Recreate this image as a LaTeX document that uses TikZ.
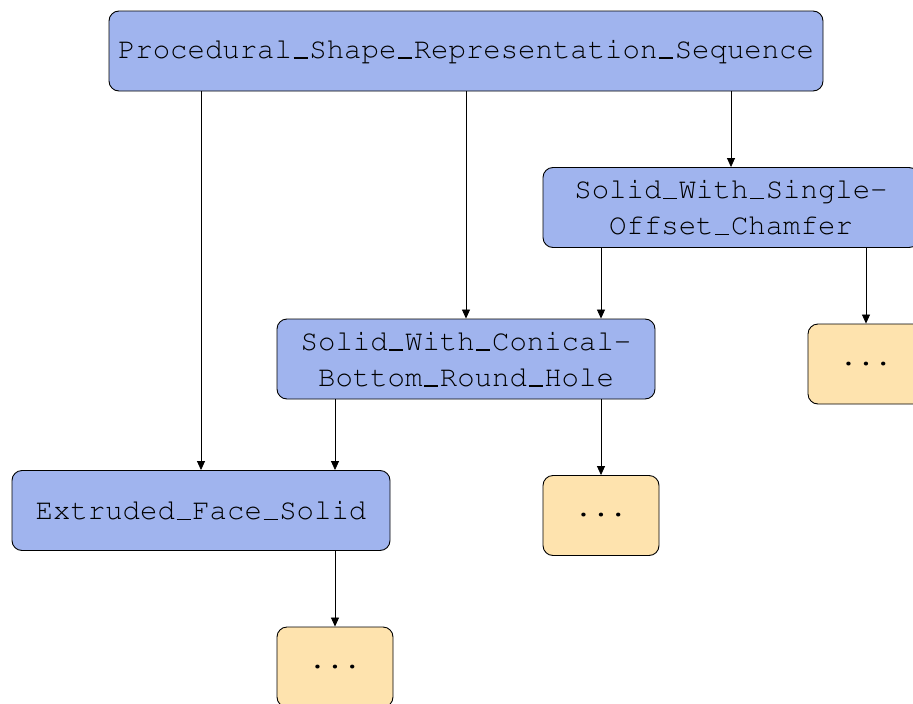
\documentclass[tikz,border=0pt]{standalone}
\usepackage[OT1]{fontenc}
\usetikzlibrary{arrows.meta}
\definecolor{boxblue}{RGB}{160,180,238}
\definecolor{boxorange}{RGB}{254,227,174}
\newcommand\usc{\makebox[0.6em]{\rule[-0.01em]{0.48em}{0.045em}}}
\tikzset{
  box/.style={draw=black, line width=0.9pt, rounded corners=10pt, inner sep=0pt,
    minimum height=80pt, align=center,
    font=\fontencoding{OT1}\fontfamily{pcr}\fontsize{29}{36}\selectfont},
  bluebox/.style={box, fill=boxblue},
  dotbox/.style={box, fill=boxorange, minimum width=116pt},
  arr/.style={draw=black, line width=0.8pt, -{Triangle[length=9pt,width=8pt]}}
}
\begin{document}
\begin{tikzpicture}[x=1pt,y=-1pt]
\useasboundingbox (0,0) rectangle (913,704);
\node[bluebox, minimum width=714pt] (top) at (466,51) {Procedural\usc Shape\usc Representation\usc Sequence};
\node[bluebox, minimum width=376pt] (cham) at (731,207.5) {Solid\usc With\usc Single-\\Offset\usc Chamfer};
\node[bluebox, minimum width=378pt] (con) at (466,359) {Solid\usc With\usc Conical-\\Bottom\usc Round\usc Hole};
\node[bluebox, minimum width=378pt] (ext) at (201,510.5) {Extruded\usc Face\usc Solid};
\node[dotbox] (d3) at (866,364) {...};
\node[dotbox] (d2) at (601,515.5) {...};
\node[dotbox] (d1) at (335,667) {...};
\draw[arr] (top.south -| ext) -- (ext.north);
\draw[arr] (top.south) -- (con.north);
\draw[arr] (top.south -| cham) -- (cham.north);
\draw[arr] (cham.south -| d2) -- (con.north -| d2);
\draw[arr] (cham.south -| d3) -- (d3.north);
\draw[arr] (con.south -| d1) -- (ext.north -| d1);
\draw[arr] (con.south -| d2) -- (d2.north);
\draw[arr] (ext.south -| d1) -- (d1.north);
\end{tikzpicture}
\end{document}
